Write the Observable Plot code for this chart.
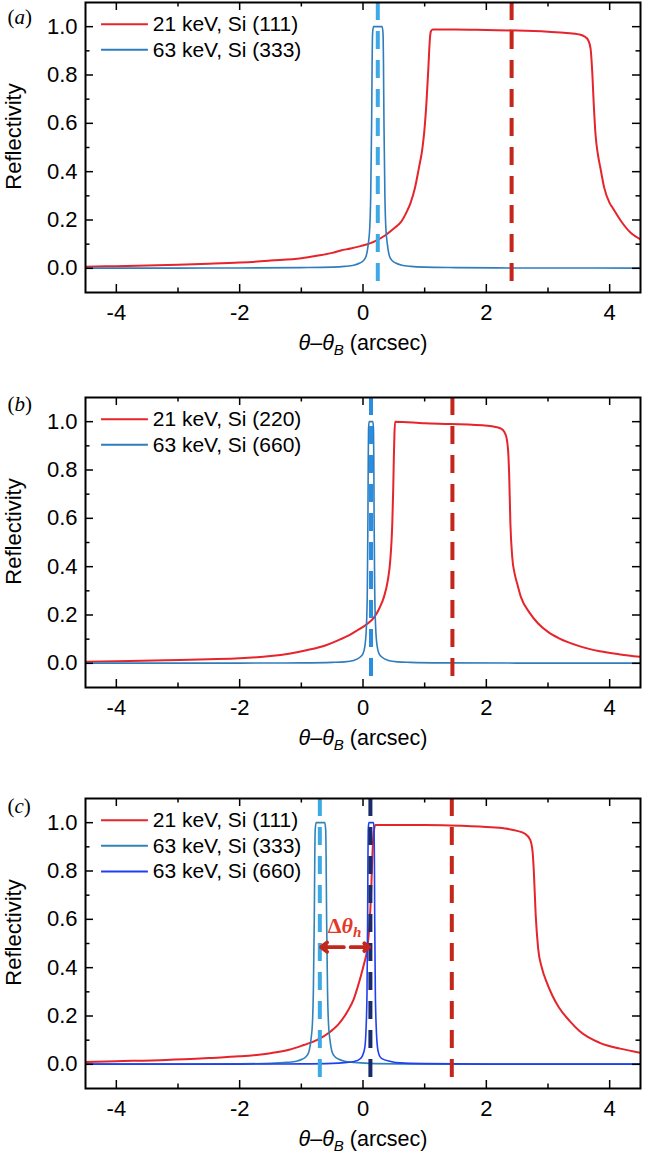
<!DOCTYPE html>
<html><head><meta charset="utf-8">
<script src="https://cdn.jsdelivr.net/npm/d3@7"></script>
<script src="https://cdn.jsdelivr.net/npm/@observablehq/plot@0.6"></script>
<style>
body{margin:0;background:#fff;}
#chart{width:645px;}
#chart svg{display:block;}
</style></head><body><div id="chart"></div>
<script>
// ---------- axis ticks ----------
const xMajor = [-4, -2, 0, 2, 4];
const xMinor = [-3, -1, 1, 3];
const yMajor = [0, 0.2, 0.4, 0.6, 0.8, 1.0];
const yMinor = [0.1, 0.3, 0.5, 0.7, 0.9];
const xLabel = "θ–θB (arcsec)";
const yLabel = "Reflectivity";

// ---------- panel (a) ----------
const a_21keV_Si111 = [[-4.5,0.007],[-4.0,0.009],[-3.5,0.012],[-3.0,0.015],[-2.5,0.019],[-2.0,0.024],[-1.66,0.029],[-1.5,0.032],[-1.0,0.042],[-0.75,0.052],[-0.5,0.064],[-0.36,0.074],[-0.2,0.082],[-0.04,0.092],[0.1,0.102],[0.23,0.117],[0.35,0.135],[0.5,0.165],[0.61,0.19],[0.72,0.24],[0.77,0.27],[0.84,0.33],[0.91,0.42],[0.96,0.49],[0.99,0.556],[1.03,0.69],[1.06,0.83],[1.085,0.95],[1.1,0.98],[1.13,0.988],[1.5,0.988],[2.0,0.986],[2.5,0.984],[3.0,0.979],[3.3,0.974],[3.5,0.968],[3.6,0.958],[3.65,0.945],[3.69,0.91],[3.72,0.8],[3.74,0.69],[3.77,0.556],[3.81,0.47],[3.85,0.415],[3.91,0.335],[4.0,0.27],[4.05,0.25],[4.18,0.197],[4.35,0.145],[4.5,0.12]];
const a_63keV_Si333 = [[-4.5,0.001],[-3,0.001],[-2,0.0015],[-1,0.003],[-0.5,0.005],[-0.3,0.008],[-0.15,0.013],[-0.05,0.022],[0.0,0.03],[0.05,0.05],[0.085,0.1],[0.11,0.17],[0.125,0.3],[0.14,0.6],[0.148,0.85],[0.155,0.97],[0.17,1.0],[0.31,1.0],[0.325,0.97],[0.332,0.85],[0.34,0.6],[0.355,0.3],[0.37,0.17],[0.395,0.1],[0.43,0.05],[0.48,0.03],[0.53,0.022],[0.63,0.013],[0.78,0.008],[1.0,0.005],[1.5,0.003],[2.5,0.0015],[4.5,0.001]];
const a_dashX = [0.24, 2.41];
const a_legend = ["21 keV, Si (111)", "63 keV, Si (333)"];

// ---------- panel (b) ----------
const b_21keV_Si220 = [[-4.5,0.007],[-4.0,0.009],[-3.2,0.013],[-2.5,0.017],[-2.0,0.021],[-1.5,0.03],[-1.2,0.04],[-0.9,0.055],[-0.6,0.075],[-0.36,0.1],[-0.2,0.12],[-0.09,0.137],[0.05,0.16],[0.18,0.19],[0.27,0.23],[0.34,0.275],[0.4,0.34],[0.44,0.42],[0.475,0.58],[0.49,0.72],[0.5,0.85],[0.51,0.95],[0.52,1.0],[1.0,0.993],[1.42,0.99],[2.02,0.983],[2.15,0.978],[2.23,0.972],[2.29,0.958],[2.33,0.93],[2.36,0.85],[2.37,0.784],[2.39,0.58],[2.42,0.44],[2.46,0.37],[2.5,0.33],[2.56,0.275],[2.7,0.21],[2.84,0.165],[3.0,0.13],[3.18,0.103],[3.52,0.07],[3.84,0.05],[4.17,0.037],[4.5,0.027]];
const b_63keV_Si660 = [[-4.5,0.001],[-2,0.001],[-1,0.002],[-0.5,0.004],[-0.3,0.006],[-0.15,0.012],[-0.05,0.025],[0.0,0.04],[0.03,0.07],[0.055,0.15],[0.07,0.3],[0.08,0.6],[0.085,0.85],[0.09,0.97],[0.1,1.0],[0.16,1.0],[0.17,0.97],[0.175,0.85],[0.18,0.6],[0.19,0.3],[0.205,0.15],[0.23,0.07],[0.26,0.04],[0.31,0.025],[0.41,0.012],[0.56,0.006],[0.76,0.004],[1.3,0.002],[2.5,0.001],[4.5,0.001]];
const b_dashX = [0.13, 1.45];
const b_legend = ["21 keV, Si (220)", "63 keV, Si (660)"];

// ---------- panel (c) ----------
const c_21keV_Si111 = [[-4.5,0.01],[-4.0,0.013],[-3.19,0.018],[-2.5,0.026],[-2.0,0.033],[-1.5,0.046],[-1.2,0.06],[-0.96,0.08],[-0.75,0.1],[-0.53,0.135],[-0.4,0.165],[-0.25,0.22],[-0.15,0.27],[-0.09,0.317],[-0.03,0.37],[0.015,0.414],[0.07,0.48],[0.1,0.56],[0.13,0.7],[0.15,0.85],[0.17,0.95],[0.2,0.99],[0.5,0.99],[1.0,0.99],[1.42,0.988],[2.0,0.982],[2.3,0.976],[2.5,0.966],[2.62,0.955],[2.71,0.93],[2.75,0.88],[2.77,0.8],[2.8,0.62],[2.84,0.48],[2.9,0.4],[2.97,0.345],[3.07,0.285],[3.18,0.234],[3.35,0.18],[3.51,0.138],[3.84,0.089],[4.17,0.065],[4.5,0.048]];
const c_63keV_Si333 = [[-4.5,0.001],[-3,0.001],[-2,0.002],[-1.5,0.004],[-1.23,0.008],[-1.08,0.013],[-0.98,0.022],[-0.93,0.03],[-0.88,0.05],[-0.845,0.1],[-0.82,0.17],[-0.805,0.3],[-0.79,0.6],[-0.782,0.85],[-0.775,0.97],[-0.76,1.0],[-0.62,1.0],[-0.605,0.97],[-0.598,0.85],[-0.59,0.6],[-0.575,0.3],[-0.56,0.17],[-0.535,0.1],[-0.5,0.05],[-0.45,0.03],[-0.4,0.022],[-0.3,0.013],[-0.15,0.008],[0.1,0.004],[0.6,0.002],[1.5,0.001],[4.5,0.001]];
const c_63keV_Si660 = [[-4.5,0.001],[-2,0.001],[-1,0.002],[-0.5,0.004],[-0.3,0.007],[-0.14,0.012],[-0.05,0.022],[-0.01,0.035],[0.03,0.07],[0.05,0.15],[0.065,0.3],[0.075,0.6],[0.08,0.85],[0.085,0.97],[0.095,1.0],[0.17,1.0],[0.18,0.97],[0.185,0.85],[0.19,0.6],[0.2,0.3],[0.215,0.15],[0.235,0.07],[0.26,0.04],[0.3,0.025],[0.45,0.012],[0.6,0.006],[1.0,0.003],[2.0,0.001],[4.5,0.001]];
const c_dashX = [-0.70, 0.12, 1.44];
const c_legend = ["21 keV, Si (111)", "63 keV, Si (333)", "63 keV, Si (660)"];
const c_arrowY = 0.485;
const c_arrowLabel = "Δθh";

// ---------- colours ----------
const RED = "#e5242b", BLUE = "#2f7dbd", BLUE333c = "#3182b6", BLUE660c = "#1f3ff2";
const DASH_LIGHTBLUE = "#3daae6", DASH_BLUE = "#2a8de0", DASH_RED = "#c3261b", DASH_NAVY = "#1a2a6a";

const panels = [
  {tag: "a", mt: 2, mb: 102, labelDy: 15,
   series: [{data: a_21keV_Si111, color: RED, w: 2}, {data: a_63keV_Si333, color: BLUE, w: 1.6}],
   legend: a_legend,
   dashes: [{x: a_dashX[0], color: DASH_LIGHTBLUE}, {x: a_dashX[1], color: DASH_RED}]},
  {tag: "b", mt: 3, mb: 109, labelDy: 7,
   series: [{data: b_21keV_Si220, color: RED, w: 2}, {data: b_63keV_Si660, color: BLUE, w: 1.6}],
   legend: b_legend,
   dashes: [{x: b_dashX[0], color: DASH_BLUE}, {x: b_dashX[1], color: DASH_RED}]},
  {tag: "c", mt: 2, mb: 82, labelDy: 7.5,
   series: [{data: c_21keV_Si111, color: RED, w: 2}, {data: c_63keV_Si333, color: BLUE333c, w: 1.6}, {data: c_63keV_Si660, color: BLUE660c, w: 1.6}],
   legend: c_legend,
   dashes: [{x: c_dashX[0], color: DASH_LIGHTBLUE}, {x: c_dashX[1], color: DASH_NAVY}, {x: c_dashX[2], color: DASH_RED}],
   arrow: true}
];

const W = 555, H = 290;
const legendX1 = -4.24, legendX2 = -3.48, legendTextX = -3.41, legendY0 = 1.01, legendStep = 0.106;

function rich(svg, content, parts) {
  d3.select(svg).selectAll("text").filter(function() { return this.textContent === content; }).each(function() {
    const t = d3.select(this);
    t.text(null);
    parts.forEach(pt => {
      const ts = t.append("tspan").text(pt.t);
      if (pt.italic) ts.attr("font-style", "italic");
      if (pt.bold) ts.attr("font-weight", "bold");
      if (pt.size) ts.attr("font-size", pt.size);
      if (pt.dy) ts.attr("dy", pt.dy);
    });
  });
}

function makePanel(p) {
  const marks = [];
  // curves
  p.series.forEach(s => marks.push(Plot.line(s.data, {x: d => d[0], y: d => d[1], stroke: s.color, strokeWidth: s.w, curve: "monotone-x", clip: true})));
  // dashed reference lines
  p.dashes.forEach(d => marks.push(Plot.ruleX([d.x], {stroke: d.color, strokeWidth: 4, strokeDasharray: "18,11"})));
  // arrow & label (panel c)
  if (p.arrow) {
    const mid1 = -0.31, mid2 = -0.20;
    marks.push(Plot.arrow([0], {x1: mid1, x2: c_dashX[0] + 0.02, y1: c_arrowY, y2: c_arrowY, stroke: DASH_RED, strokeWidth: 3.8, headLength: 4, headAngle: 75}));
    marks.push(Plot.arrow([0], {x1: mid2, x2: c_dashX[1] - 0.02, y1: c_arrowY, y2: c_arrowY, stroke: DASH_RED, strokeWidth: 3.8, headLength: 4, headAngle: 75}));
    marks.push(Plot.text([c_arrowLabel], {x: (c_dashX[0] + c_dashX[1]) / 2 - 0.01, y: 0.545, lineAnchor: "bottom", fill: "#e2392b", fontFamily: "'Liberation Serif', 'Times New Roman', serif", fontSize: 22}));
  }
  // frame + ticks
  marks.push(Plot.frame({stroke: "#000", strokeWidth: 2}));
  const tk = {stroke: "#000", strokeWidth: 1.5};
  marks.push(Plot.tickX(xMajor, {x: d => d, insetTop: H - 8, ...tk}));
  marks.push(Plot.tickX(xMajor, {x: d => d, insetBottom: H - 8, ...tk}));
  marks.push(Plot.tickX(xMinor, {x: d => d, insetTop: H - 4.5, ...tk}));
  marks.push(Plot.tickX(xMinor, {x: d => d, insetBottom: H - 4.5, ...tk}));
  marks.push(Plot.tickY(yMajor, {y: d => d, insetRight: W - 8, ...tk}));
  marks.push(Plot.tickY(yMajor, {y: d => d, insetLeft: W - 8, ...tk}));
  marks.push(Plot.tickY(yMinor, {y: d => d, insetRight: W - 4.5, ...tk}));
  marks.push(Plot.tickY(yMinor, {y: d => d, insetLeft: W - 4.5, ...tk}));
  // tick labels
  marks.push(Plot.text(xMajor, {x: d => d, frameAnchor: "bottom", dy: 20, textAnchor: "middle", lineAnchor: "middle", text: d => String(d), fontSize: 22}));
  marks.push(Plot.text(yMajor, {y: d => d, frameAnchor: "left", dx: -8, textAnchor: "end", lineAnchor: "middle", text: d => d.toFixed(1), fontSize: 22}));
  // axis labels
  marks.push(Plot.text([yLabel], {frameAnchor: "left", dx: -71.5, dy: -11, rotate: -90, textAnchor: "middle", lineAnchor: "middle", fontSize: 22}));
  marks.push(Plot.text([xLabel], {frameAnchor: "bottom", dy: 51, textAnchor: "middle", lineAnchor: "middle", fontSize: 21.5}));
  // panel tag
  marks.push(Plot.text([`(${p.tag})`], {frameAnchor: "top-left", dx: -78, dy: p.labelDy, textAnchor: "start", lineAnchor: "middle", fontFamily: "'Liberation Serif', 'Times New Roman', serif", fontSize: 21}));
  // legend
  p.legend.forEach((lab, i) => {
    const yy = legendY0 - i * legendStep;
    marks.push(Plot.ruleY([yy], {x1: legendX1, x2: legendX2, stroke: p.series[i].color, strokeWidth: 2}));
    marks.push(Plot.text([lab], {x: legendTextX, y: yy, textAnchor: "start", lineAnchor: "middle", fontSize: 21}));
  });

  const svg = Plot.plot({
    width: 645, height: p.mt + H + p.mb,
    marginLeft: 85, marginRight: 5, marginTop: p.mt, marginBottom: p.mb,
    x: {domain: [-4.5, 4.5], axis: null},
    y: {domain: [-0.1, 1.1], axis: null},
    style: {fontFamily: "'Liberation Sans', Arial, sans-serif", fontSize: "20px", background: "#fff", color: "#000", overflow: "visible"},
    marks
  });
  rich(svg, xLabel, [{t: "θ", italic: true}, {t: "–"}, {t: "θ", italic: true}, {t: "B", italic: true, size: "15px", dy: "5"}, {t: " (arcsec)", dy: "-5"}]);
  rich(svg, `(${p.tag})`, [{t: "("}, {t: p.tag, italic: true}, {t: ")"}]);
  rich(svg, c_arrowLabel, [{t: "Δ", bold: true}, {t: "θ", bold: true, italic: true}, {t: "h", bold: true, italic: true, size: "15px", dy: "4"}]);
  return svg;
}

const root = document.getElementById("chart");
panels.forEach(p => root.appendChild(makePanel(p)));
</script></body></html>
